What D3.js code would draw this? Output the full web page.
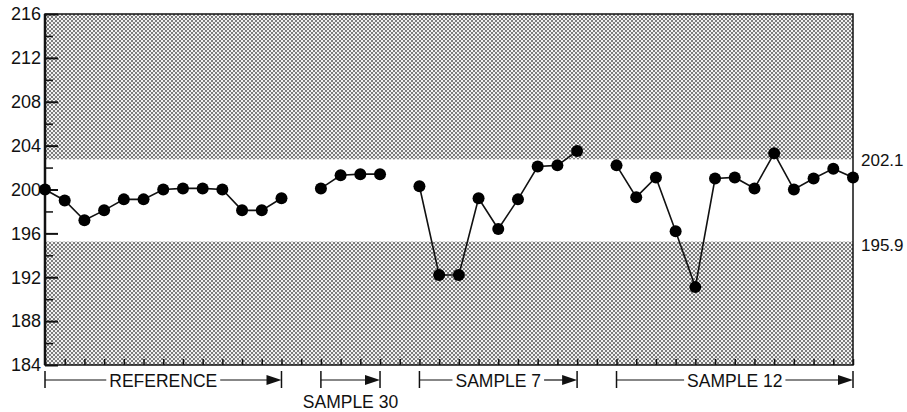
<!DOCTYPE html>
<html>
<head>
<meta charset="utf-8">
<script src="https://cdn.jsdelivr.net/npm/d3@7"></script>
<style>
  body { margin: 0; background: #fff; }
  text { font-family: "Liberation Sans", Arial, Helvetica, sans-serif; fill: #111; }
</style>
</head>
<body>
<div id="chart"></div>
<script>
// data
var runLabels = ["REFERENCE", "SAMPLE 30", "SAMPLE 7", "SAMPLE 12"];
var runStart = [0, 14, 19, 29];
var referenceRun = [200.0, 199.0, 197.2, 198.1, 199.1, 199.1, 200.0, 200.1, 200.1, 200.0, 198.1, 198.1, 199.2];
var sample30Run = [200.1, 201.3, 201.4, 201.4];
var sample7Run = [200.3, 192.2, 192.2, 199.2, 196.4, 199.1, 202.1, 202.2, 203.5];
var sample12Run = [202.2, 199.3, 201.1, 196.2, 191.1, 201.0, 201.1, 200.1, 203.3, 200.0, 201.0, 201.9, 201.1];
var runValues = [referenceRun, sample30Run, sample7Run, sample12Run];

var yTicks = [184, 188, 192, 196, 200, 204, 208, 212, 216];
var yMinorTicks = [186, 190, 194, 198, 202, 206, 210, 214];
var limitLabels = ["202.1", "195.9"];
var bandEdges = [202.75, 195.25];

// set up chart
var svgWidth = 907;
var svgHeight = 412;

var margin = { top: 14, right: 54, bottom: 47, left: 45 };
var width = svgWidth - margin.left - margin.right;
var height = svgHeight - margin.top - margin.bottom;

var svg = d3.select("#chart")
  .append("svg")
  .attr("width", svgWidth)
  .attr("height", svgHeight);

// halftone look for the shaded bands
var defs = svg.append("defs");
var pat = defs.append("pattern")
  .attr("id", "dots")
  .attr("patternUnits", "userSpaceOnUse")
  .attr("width", 4)
  .attr("height", 4);
pat.append("rect").attr("width", 4).attr("height", 4).attr("fill", "#f0f0f0");
pat.append("rect").attr("x", 0).attr("y", 0).attr("width", 2).attr("height", 2).attr("fill", "#7c7c7c");
pat.append("rect").attr("x", 2).attr("y", 2).attr("width", 2).attr("height", 2).attr("fill", "#7c7c7c");

var chartGroup = svg.append("g")
  .attr("transform", `translate(${margin.left}, ${margin.top})`);

var xScale = d3.scaleLinear().domain([0, 41]).range([0, width]);
var yScale = d3.scaleLinear().domain([184, 216]).range([height, 0]);

// shaded background, white band between the limits
chartGroup.append("rect")
  .attr("width", width)
  .attr("height", height)
  .attr("fill", "url(#dots)");

chartGroup.append("rect")
  .attr("x", 0)
  .attr("y", yScale(bandEdges[0]))
  .attr("width", width)
  .attr("height", yScale(bandEdges[1]) - yScale(bandEdges[0]))
  .attr("fill", "#fff");

// axes
var leftAxis = d3.axisLeft(yScale)
  .tickValues(yTicks)
  .tickSize(-13)
  .tickPadding(4);

var yAxis = chartGroup.append("g").call(leftAxis);
yAxis.select(".domain").remove();
yAxis.selectAll("line").attr("stroke", "#111").attr("stroke-width", 2);
yAxis.selectAll("text").attr("font-size", "18px").attr("fill", "#111");

var yMinor = chartGroup.append("g")
  .call(d3.axisLeft(yScale).tickValues(yMinorTicks).tickSize(-8).tickFormat(""));
yMinor.select(".domain").remove();
yMinor.selectAll("line").attr("stroke", "#111").attr("stroke-width", 1.5);

var bottomAxis = d3.axisBottom(xScale)
  .tickValues(d3.range(0, 42))
  .tickSize(-6)
  .tickFormat("");

var xAxis = chartGroup.append("g")
  .attr("transform", `translate(0, ${height})`)
  .call(bottomAxis);
xAxis.select(".domain").remove();
xAxis.selectAll("line").attr("stroke", "#111").attr("stroke-width", 1.5);

// frame
chartGroup.append("rect")
  .attr("width", width)
  .attr("height", height)
  .attr("fill", "none")
  .attr("stroke", "#111")
  .attr("stroke-width", 1.5);
chartGroup.append("line")
  .attr("x1", 0).attr("x2", 0)
  .attr("y1", 0).attr("y2", height)
  .attr("stroke", "#111")
  .attr("stroke-width", 2.5);

// limit labels on the right
chartGroup.selectAll(".limit")
  .data(limitLabels)
  .enter()
  .append("text")
  .attr("class", "limit")
  .attr("x", width + 8)
  .attr("y", (d, i) => yScale(bandEdges[i]))
  .attr("dy", (d, i) => i === 0 ? "0.42em" : "0.55em")
  .attr("font-size", "17px")
  .text((d) => d);

// runs: line + dots, one group each
var line = d3.line()
  .x((d) => xScale(d.i))
  .y((d) => yScale(d.v));

runValues.forEach((vals, r) => {
  var pts = vals.map((v, k) => ({ i: runStart[r] + k, v: v }));

  chartGroup.append("path")
    .datum(pts)
    .attr("d", line)
    .attr("fill", "none")
    .attr("stroke", "#111")
    .attr("stroke-width", 1.6);

  chartGroup.selectAll(null)
    .data(pts)
    .enter()
    .append("circle")
    .attr("cx", (d) => xScale(d.i))
    .attr("cy", (d) => yScale(d.v))
    .attr("r", 6)
    .attr("fill", "#000");
});

// brackets under the axis
var by = height + 15;
runLabels.forEach((label, r) => {
  var x0 = xScale(runStart[r]);
  var x1 = xScale(runStart[r] + runValues[r].length - 1);
  var g = chartGroup.append("g");

  g.append("line")
    .attr("x1", x0).attr("x2", x0)
    .attr("y1", by - 9).attr("y2", by + 8)
    .attr("stroke", "#111").attr("stroke-width", 1.5);
  g.append("line")
    .attr("x1", x1).attr("x2", x1)
    .attr("y1", by - 9).attr("y2", by + 8)
    .attr("stroke", "#111").attr("stroke-width", 1.5);
  g.append("path")
    .attr("d", `M${x1},${by} L${x1 - 15},${by - 5} L${x1 - 15},${by + 5} Z`)
    .attr("fill", "#111");

  var txt = g.append("text")
    .attr("font-size", "17.5px")
    .attr("text-anchor", "middle")
    .text(label);

  var inline = (x1 - x0) > 120;
  if (inline) {
    txt.attr("x", (x0 + x1) / 2).attr("y", by).attr("dy", "0.4em");
    var half = txt.node().getComputedTextLength() / 2;
    var cx = (x0 + x1) / 2;
    g.append("line")
      .attr("x1", x0).attr("x2", cx - half - 3)
      .attr("y1", by).attr("y2", by)
      .attr("stroke", "#111").attr("stroke-width", 1.2);
    g.append("line")
      .attr("x1", cx + half + 3).attr("x2", x1 - 10)
      .attr("y1", by).attr("y2", by)
      .attr("stroke", "#111").attr("stroke-width", 1.2);
  } else {
    txt.attr("x", (x0 + x1) / 2).attr("y", by + 28);
    g.append("line")
      .attr("x1", x0).attr("x2", x1 - 10)
      .attr("y1", by).attr("y2", by)
      .attr("stroke", "#111").attr("stroke-width", 1.2);
  }
});
</script>
</body>
</html>
